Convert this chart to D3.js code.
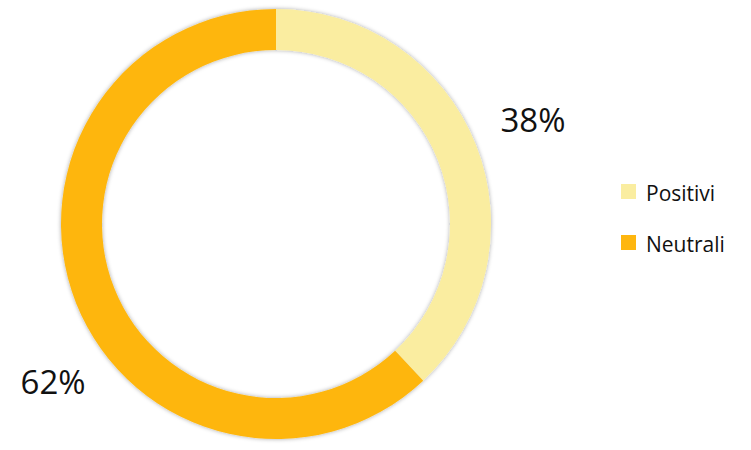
<!DOCTYPE html>
<html>
<head>
<meta charset="utf-8">
<script src="https://cdn.jsdelivr.net/npm/d3@7"></script>
<style>
  body { margin: 0; background: #fff; }
  svg { display: block; font-family: "Open Sans", "Lato", sans-serif; }
</style>
</head>
<body>
<svg id="chart" width="751" height="450"></svg>
<script>
const categories = ["Positivi", "Neutrali"];
const values = [38, 62];
const colors = ["#FAEDA0", "#FEB60F"];

const width = 751, height = 450;
const cx = 276, cy = 224;
const outerR = 215, innerR = 174;

const svg = d3.select("#chart");

// soft shadow round the ring
const defs = svg.append("defs");
const f = defs.append("filter").attr("id", "shadow")
    .attr("x", "-10%").attr("y", "-10%").attr("width", "120%").attr("height", "120%");
f.append("feDropShadow")
    .attr("dx", 0).attr("dy", 0)
    .attr("stdDeviation", 2)
    .attr("flood-color", "#000")
    .attr("flood-opacity", 0.35);

const pie = d3.pie().sort(null).value(d => d)(values);
const arc = d3.arc().innerRadius(innerR).outerRadius(outerR);

const g = svg.append("g").attr("transform", `translate(${cx},${cy})`);

g.append("g").attr("filter", "url(#shadow)")
  .selectAll("path")
  .data(pie)
  .join("path")
    .attr("d", arc)
    .attr("fill", (d, i) => colors[i]);

// percent labels outside the ring
const labelArc = d3.arc().innerRadius(250).outerRadius(250);
const labelShift = [[-8, 0], [42, 78]];
g.selectAll("text.pct")
  .data(pie)
  .join("text")
    .attr("class", "pct")
    .attr("x", (d, i) => labelArc.centroid(d)[0] + labelShift[i][0])
    .attr("y", (d, i) => labelArc.centroid(d)[1] + labelShift[i][1])
    .attr("text-anchor", d => (d.startAngle + d.endAngle) / 2 < Math.PI ? "start" : "end")
    .attr("font-size", 33)
    .attr("fill", "#111")
    .text(d => d.value + "%");

// legend
const legend = svg.append("g").attr("transform", "translate(621,184)");
const item = legend.selectAll("g")
  .data(categories)
  .join("g")
    .attr("transform", (d, i) => `translate(0,${i * 51})`);
item.append("rect")
    .attr("width", 15).attr("height", 15)
    .attr("fill", (d, i) => colors[i]);
item.append("text")
    .attr("x", 25).attr("y", 17)
    .attr("font-size", 21)
    .attr("fill", "#111")
    .text(d => d);
</script>
</body>
</html>
